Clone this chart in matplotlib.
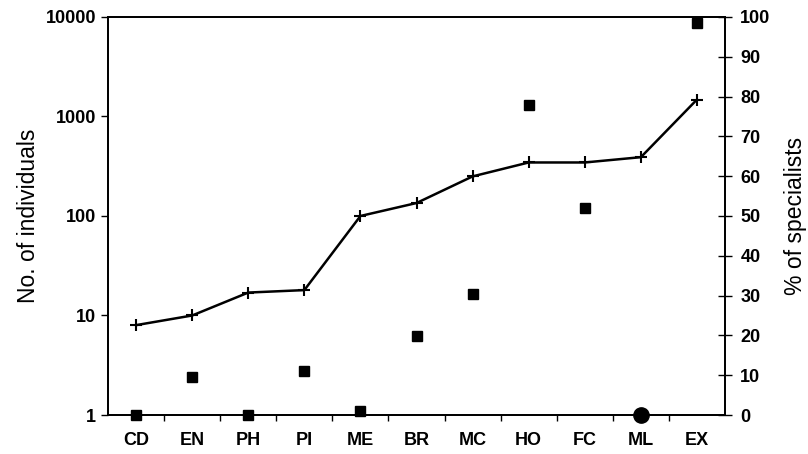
import numpy as np
import matplotlib.pyplot as plt
from matplotlib.ticker import FixedLocator, NullLocator

plt.rcParams['font.family'] = ['Liberation Sans', 'DejaVu Sans']

# dados
categorias = ['CD', 'EN', 'PH', 'PI', 'ME', 'BR', 'MC', 'HO', 'FC', 'ML', 'EX']
n_individuos = [8, 10, 17, 18, 100, 135, 250, 345, 345, 390, 1480]
perc_especialistas = [0, 9.5, 0, 11, 1, 19.8, 30.4, 78, 52, 0, 98.5]
destaque = ['ML']  # ponto em circulo grande

fig = plt.figure(figsize=(8.08, 4.54), dpi=100)
ax = fig.add_axes([0.1337, 0.0859, 0.7636, 0.8767])
x = np.arange(len(categorias))

# eixo da esquerda (log)
ax.plot(x, n_individuos, color='black', lw=1.8, marker='+', markersize=9,
        markeredgewidth=1.5, zorder=3)
ax.set_yscale('log')
ax.set_ylim(1, 10000)
ax.set_xlim(-0.5, len(categorias) - 0.5)
ax.set_yticks([1, 10, 100, 1000, 10000])
ax.set_yticklabels(['1', '10', '100', '1000', '10000'], fontweight='bold', fontsize=13)
ax.yaxis.set_minor_locator(NullLocator())
ax.set_ylabel('No. of individuals', fontsize=16.5, labelpad=4)

ax.set_xticks(x)
ax.set_xticklabels(categorias, fontweight='bold', fontsize=13)
ax.tick_params(axis='x', which='major', length=0, pad=12)
ax.xaxis.set_minor_locator(FixedLocator(np.arange(0.5, len(categorias) - 1, 1)))
ax.tick_params(axis='x', which='minor', length=4, direction='out', width=1)
ax.tick_params(axis='y', length=5, direction='out', width=1)

for s in ax.spines.values():
    s.set_linewidth(1.3)

# eixo da direita (%)
ax2 = ax.twinx()
ax2.set_ylim(0, 100)
ax2.set_yticks(np.arange(0, 101, 10))
ax2.set_yticklabels([str(v) for v in range(0, 101, 10)], fontweight='bold', fontsize=13)
ax2.tick_params(axis='y', length=10, direction='inout', width=1, pad=6)
ax2.set_ylabel('% of specialists', fontsize=16.5, labelpad=10)
for s in ax2.spines.values():
    s.set_linewidth(1.3)

for i, (cat, p) in enumerate(zip(categorias, perc_especialistas)):
    if cat in destaque:
        ax2.plot(x[i], p, 'o', color='black', markersize=11, clip_on=False, zorder=4)
    else:
        ax2.plot(x[i], p, 's', color='black', markersize=6.5, clip_on=False, zorder=4)

fig.savefig('out.png', dpi=100)
